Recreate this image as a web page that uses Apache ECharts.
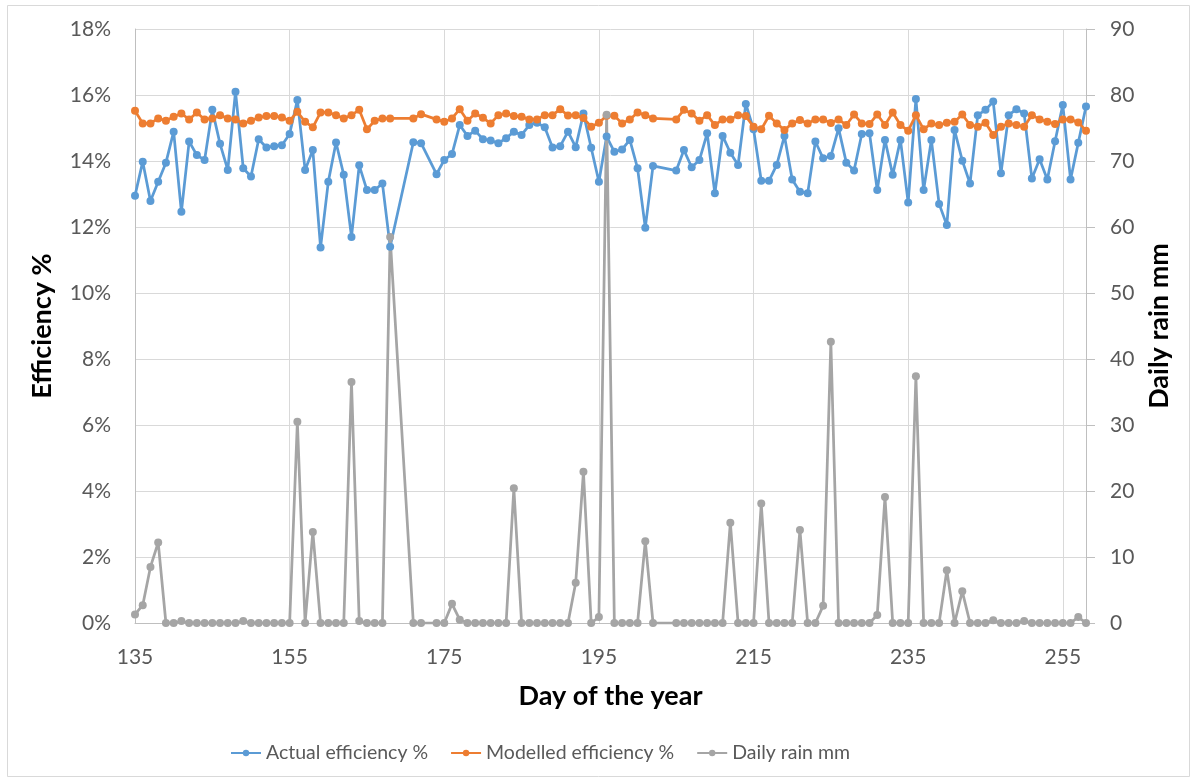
<!DOCTYPE html>
<html><head><meta charset="utf-8">
<script src="https://cdn.jsdelivr.net/npm/echarts@6/dist/echarts.min.js"></script>
<style>html,body{margin:0;padding:0;background:#fff}#c{width:1198px;height:782px}</style>
</head><body><div id="c"></div>
<script>
const days = [135,136,137,138,139,140,141,142,143,144,145,146,147,148,149,150,151,152,153,154,155,156,157,158,159,160,161,162,163,164,165,166,167,168,
171,172,174,175,176,177,178,179,180,181,182,183,184,185,186,187,188,189,190,191,192,193,194,195,196,197,198,199,200,201,202,
205,206,207,208,209,210,211,212,213,214,215,216,217,218,219,220,221,222,223,224,225,226,227,228,229,230,231,232,233,234,235,236,237,238,239,240,241,242,243,244,245,246,247,248,249,250,251,252,253,254,255,256,257,258];

const actualEfficiency = [12.95,13.98,12.79,13.37,13.95,14.89,12.46,14.59,14.18,14.03,15.55,14.52,13.73,16.10,13.78,13.53,14.66,14.41,14.45,14.48,14.82,15.85,13.73,14.33,11.38,13.37,14.56,13.58,11.70,13.87,13.12,13.12,13.32,11.40,
14.57,14.54,13.60,14.03,14.21,15.09,14.76,14.92,14.66,14.62,14.54,14.69,14.89,14.79,15.09,15.16,15.02,14.41,14.45,14.89,14.42,15.44,14.40,13.37,14.74,14.28,14.35,14.64,13.78,11.98,13.85,
13.71,14.33,13.81,14.03,14.84,13.02,14.76,14.25,13.88,15.73,14.96,13.40,13.40,13.88,14.76,13.44,13.07,13.02,14.59,14.08,14.15,14.99,13.95,13.71,14.82,14.84,13.12,14.64,13.58,14.64,12.74,15.88,13.12,14.64,12.70,12.06,14.94,14.01,13.32,15.39,15.55,15.80,13.63,15.39,15.57,15.44,13.47,14.05,13.44,14.60,15.70,13.44,14.55,15.65];

const modelledEfficiency = [15.52,15.14,15.14,15.29,15.22,15.34,15.44,15.26,15.47,15.26,15.29,15.39,15.29,15.26,15.14,15.22,15.32,15.36,15.36,15.32,15.22,15.49,15.19,15.02,15.47,15.47,15.39,15.29,15.39,15.55,14.96,15.22,15.29,15.29,
15.29,15.42,15.26,15.19,15.29,15.57,15.22,15.44,15.31,15.14,15.39,15.44,15.36,15.34,15.26,15.26,15.39,15.39,15.57,15.38,15.39,15.30,15.04,15.16,15.37,15.37,15.14,15.26,15.47,15.39,15.29,
15.26,15.55,15.44,15.22,15.39,15.09,15.26,15.26,15.39,15.36,15.04,14.96,15.37,15.14,14.94,15.14,15.24,15.14,15.26,15.26,15.15,15.26,15.09,15.41,15.14,15.12,15.41,15.09,15.47,15.09,14.92,15.39,14.96,15.14,15.09,15.16,15.19,15.41,15.09,15.04,15.16,14.79,15.04,15.14,15.09,15.04,15.39,15.26,15.19,15.12,15.26,15.26,15.17,14.92];

const dailyRain = [1.3,2.7,8.5,12.2,0,0,0.3,0,0,0,0,0,0,0,0.3,0,0,0,0,0,0,30.5,0,13.8,0,0,0,0,36.5,0.3,0,0,0,58.5,
0,0,0,0,2.9,0.5,0,0,0,0,0,0,20.4,0,0,0,0,0,0,0,6.1,22.9,0,0.9,77,0,0,0,0,12.4,0,
0,0,0,0,0,0,0,15.2,0,0,0,18.1,0,0,0,0,14.1,0,0,2.6,42.6,0,0,0,0,0,1.2,19.1,0,0,0,37.4,0,0,0,8.0,0,4.8,0,0,0,0.4,0,0,0,0.3,0,0,0,0,0,0,0.9,0];

const xTickValues = [135,155,175,195,215,235,255];
const seriesNames = ['Actual efficiency %','Modelled efficiency %','Daily rain mm'];
const seriesColors = ['#5B9BD5','#ED7D31','#A5A5A5'];

const pair = vals => days.map((d, i) => [d, vals[i]]);
const FONT = 'Lato';
const TITLE = { fontFamily: FONT, fontSize: 27, fontWeight: 'bold', color: '#000' };
const TICK = { fontSize: 21, color: '#595959', fontFamily: FONT };

function lineSeries(idx, vals, yIdx) {
  return {
    name: seriesNames[idx], type: 'line', yAxisIndex: yIdx, data: pair(vals),
    symbol: 'circle', symbolSize: 8, showSymbol: true,
    lineStyle: { color: seriesColors[idx], width: 2.75 },
    itemStyle: { color: seriesColors[idx] },
    emphasis: { disabled: true }, animation: false
  };
}

const chart = echarts.init(document.getElementById('c'), null, { renderer: 'canvas' });
chart.setOption({
  backgroundColor: '#fff',
  animation: false,
  textStyle: { fontFamily: FONT },
  graphic: [{ type: 'rect', shape: { x: 7.5, y: 5.5, width: 1182, height: 771 }, style: { fill: 'none', stroke: '#D9D9D9', lineWidth: 1 }, silent: true }],
  grid: { left: 135, right: 112, top: 29, bottom: 159, containLabel: false },
  legend: {
    top: 738, left: 225, itemWidth: 30, itemHeight: 8, itemGap: 22,
    textStyle: { fontFamily: FONT, fontSize: 19.5, color: '#595959' },
    data: seriesNames
  },
  xAxis: {
    type: 'value', min: 135, max: 258,
    name: 'Day of the year', nameLocation: 'middle', nameGap: 60,
    nameTextStyle: TITLE,
    axisLine: { show: true, lineStyle: { color: '#BFBFBF', width: 1 } },
    axisTick: { show: false, customValues: xTickValues },
    axisLabel: Object.assign({ customValues: xTickValues, margin: 24 }, TICK),
    splitLine: { show: true, lineStyle: { color: '#D9D9D9', width: 1 } }
  },
  yAxis: [{
    type: 'value', min: 0, max: 18, interval: 2, position: 'left',
    name: 'Efficiency %', nameLocation: 'middle', nameGap: 79, nameRotate: 90,
    nameTextStyle: TITLE,
    axisLine: { show: true, lineStyle: { color: '#BFBFBF', width: 1 } },
    axisTick: { show: false },
    axisLabel: Object.assign({ formatter: '{value}%', margin: 24 }, TICK),
    splitLine: { show: true, lineStyle: { color: '#D9D9D9', width: 1 } }
  }, {
    type: 'value', min: 0, max: 90, interval: 10, position: 'right',
    name: 'Daily rain mm', nameLocation: 'middle', nameGap: 60, nameRotate: 90,
    nameTextStyle: TITLE,
    axisLine: { show: true, lineStyle: { color: '#BFBFBF', width: 1 } },
    axisTick: { show: true, inside: false, length: 9, lineStyle: { color: '#BFBFBF' } },
    axisLabel: Object.assign({ margin: 24 }, TICK),
    splitLine: { show: false }
  }],
  series: [
    lineSeries(0, actualEfficiency, 0),
    lineSeries(1, modelledEfficiency, 0),
    lineSeries(2, dailyRain, 1)
  ]
});
</script>
</body></html>
